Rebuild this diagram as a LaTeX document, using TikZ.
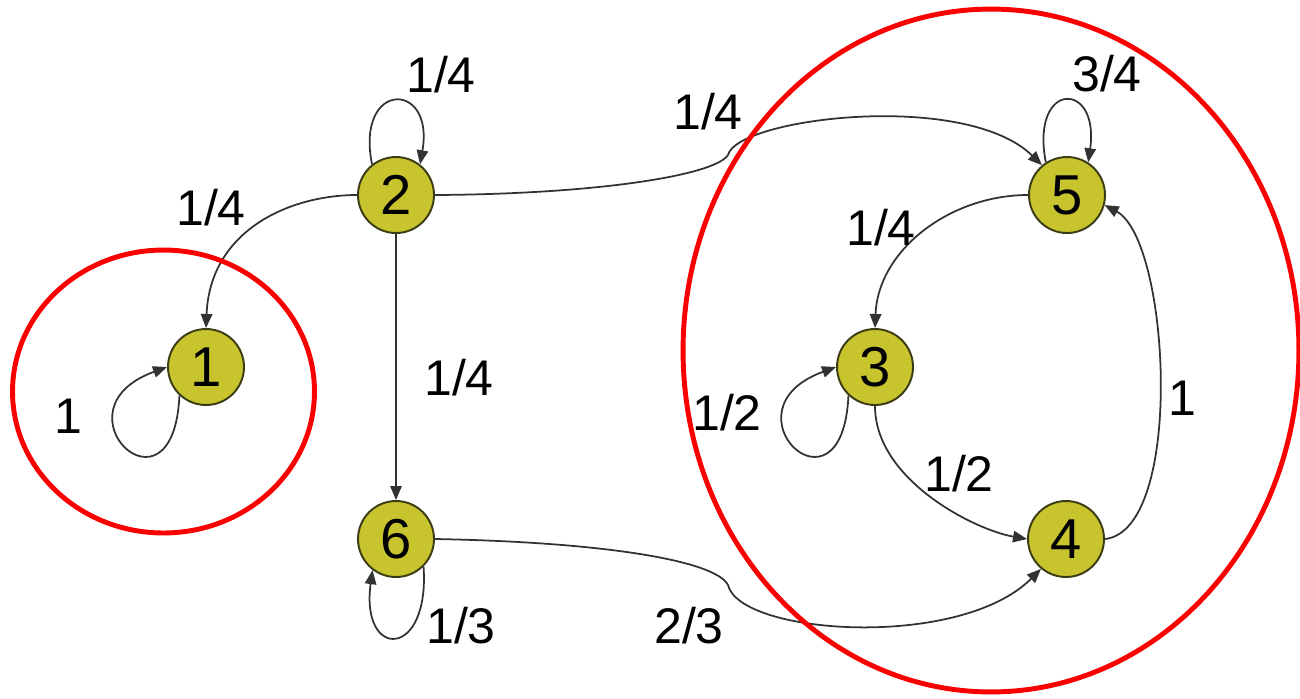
\documentclass[tikz,border=0pt]{standalone}
\usepackage{fontspec}
\setmainfont{Liberation Sans}
\usetikzlibrary{arrows.meta}
\definecolor{nodefill}{RGB}{200,196,46}
\definecolor{nodeedge}{RGB}{60,60,20}
\definecolor{edgegray}{RGB}{50,50,50}
\definecolor{ringred}{RGB}{250,0,0}
\begin{document}
\begin{tikzpicture}[x=0.02cm,y=-0.02cm,
  stnode/.style={circle,draw=nodeedge,line width=1.1pt,fill=nodefill,
    minimum size=1.52cm,inner sep=0pt,font=\fontsize{32}{36}\selectfont},
  trans/.style={draw=edgegray,line width=1pt,-{Triangle[length=8pt,width=6.5pt]}},
  lbl/.style={font=\fontsize{28.5}{34}\selectfont,inner sep=0pt},
  ring/.style={draw=ringred,line width=2.8pt}]

\useasboundingbox (0,0) rectangle (1300,698);

% states
\node[stnode] (n1) at (206,367) {1};
\node[stnode] (n2) at (396,195) {2};
\node[stnode] (n6) at (396,539) {6};
\node[stnode] (n5) at (1067,195) {5};
\node[stnode] (n3) at (875,367) {3};
\node[stnode] (n4) at (1066,539) {4};

% transitions
\draw[trans] (n2.west) .. controls (290,195) and (210,230) .. (n1.north);
\draw[trans] (n2.128) .. controls (355,80) and (435,80) .. (n2.52);
\draw[trans] (n2.south) -- (n6.north);
\draw[trans] (n2.east) .. controls (600,194) and (715,175) .. (728,155)
  .. controls (737,118) and (965,90) .. (n5.130);
\draw[trans] (n5.123) .. controls (1030,80) and (1100,80) .. (n5.57);
\draw[trans] (n5.west) .. controls (950,195) and (878,250) .. (n3.north);
\draw[trans] (n3.227) .. controls +(-6,133) and +(-118,43) .. (n3.180);
\draw[trans] (n3.south) .. controls (875,480) and (975,530) .. (n4.west);
\draw[trans] (n4.east) .. controls (1185,530) and (1170,240) .. (n5.-15);
\draw[trans] (n6.east) .. controls (600,542) and (715,560) .. (728,585)
  .. controls (740,635) and (960,650) .. (n4.230);
\draw[trans] (n6.-45) .. controls (430,660) and (360,660) .. (n6.233);
\draw[trans] (n1.227) .. controls +(-6,133) and +(-118,43) .. (n1.180);

% transition probabilities
\node[lbl] (p22) at (441,75) {1/4};
\node[lbl] (p21) at (211,208) {1/4};
\node[lbl] (p26) at (459,378) {1/4};
\node[lbl] (p25) at (708,112) {1/4};
\node[lbl] (p55) at (1107,74) {3/4};
\node[lbl] (p53) at (881,228) {1/4};
\node[lbl] (p33) at (727,413) {1/2};
\node[lbl] (p34) at (959,474) {1/2};
\node[lbl] (p45) at (1182,398) {1};
\node[lbl] (p11) at (68,416) {1};
\node[lbl] (p64) at (689,626) {2/3};
\node[lbl] (p66) at (461,626) {1/3};

% closed classes
\draw[ring] (163.5,391.5) ellipse [x radius=3.02cm, y radius=2.83cm];
\draw[ring] (991,350.5) ellipse [x radius=6.16cm, y radius=6.83cm];
\end{tikzpicture}
\end{document}
